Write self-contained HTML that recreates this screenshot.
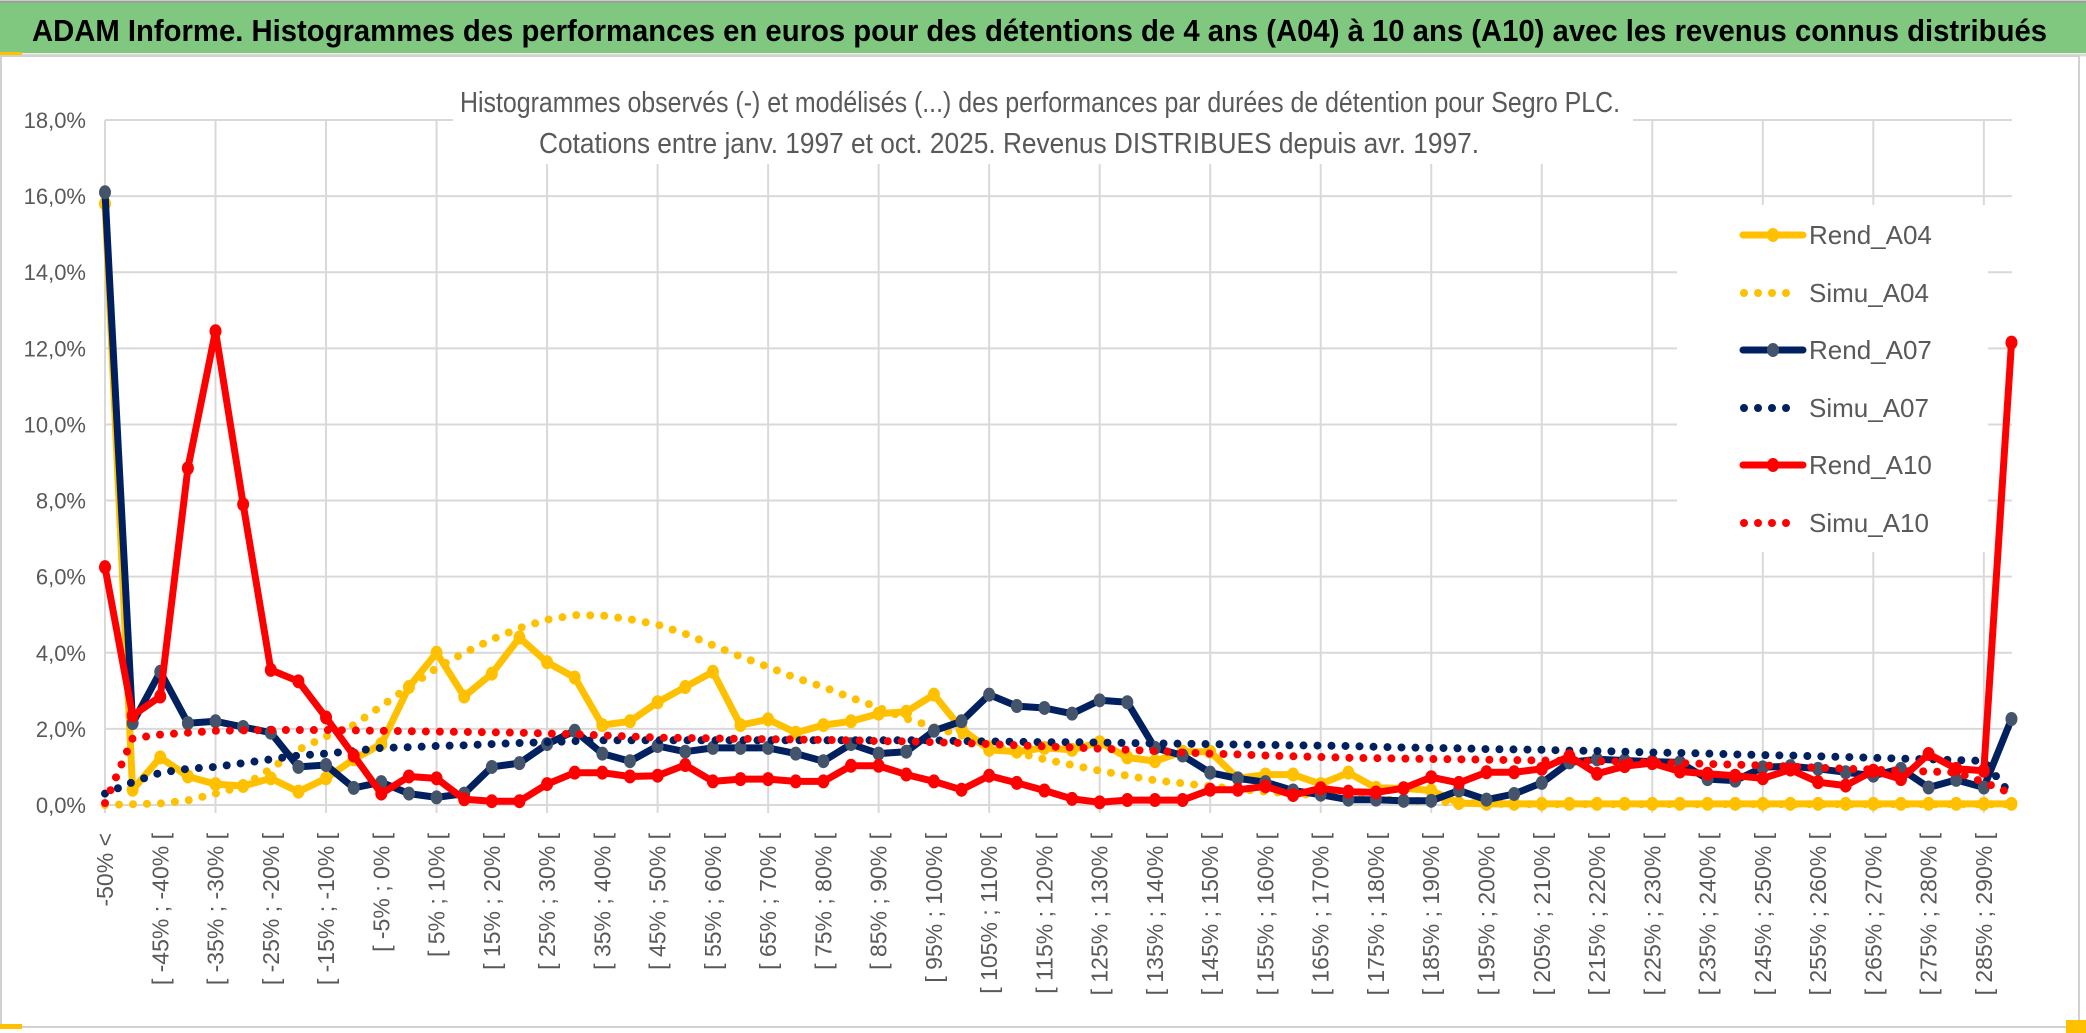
<!DOCTYPE html>
<html><head><meta charset="utf-8"><style>
html,body{margin:0;padding:0;background:#fff;}
svg{display:block;font-family:"Liberation Sans Narrow","Liberation Sans",sans-serif;}
</style></head><body>
<svg id="chart" width="2086" height="1033" viewBox="0 0 2086 1033" xmlns="http://www.w3.org/2000/svg">
<rect x="0" y="0" width="2086" height="1033" fill="#fff"/>
<rect x="0" y="2" width="2086" height="51" fill="#80c880"/>
<line x1="0" y1="1.5" x2="2086" y2="1.5" stroke="#9a9a9a" stroke-width="2"/>
<line x1="0" y1="55" x2="2086" y2="55" stroke="#d9d9d9" stroke-width="3"/>
<rect x="0" y="52" width="22" height="4" fill="#ffc000"/>
<text x="32" y="41" font-size="31" font-weight="bold" fill="#000" textLength="2015" lengthAdjust="spacingAndGlyphs">ADAM Informe. Histogrammes des performances en euros pour des détentions de 4 ans (A04) à 10 ans (A10) avec les revenus connus distribués</text>
<rect x="1" y="56" width="2078" height="971" fill="none" stroke="#d0d0d0" stroke-width="2"/>
<rect x="0" y="1024" width="22" height="5" fill="#ffc000"/>
<rect x="2066" y="1020" width="20" height="13" fill="#ffc000"/>
<g id="grid"></g>
<rect x="453" y="60" width="1180" height="104" fill="#fff"/>
<text x="460" y="112" font-size="29" fill="#595959" textLength="1160" lengthAdjust="spacingAndGlyphs">Histogrammes observés (-) et modélisés (...) des performances par durées de détention pour Segro PLC.</text>
<text x="539" y="153" font-size="29" fill="#595959" textLength="940" lengthAdjust="spacingAndGlyphs">Cotations entre janv. 1997 et oct. 2025. Revenus DISTRIBUES depuis avr. 1997.</text>
<g id="yaxis"></g>
<g id="xaxis"></g>
<rect x="1677" y="205" width="311" height="347" fill="#fff"/>
<g id="series"></g>
<g id="legend"></g>
</svg>
<script>
const yTicks = [0,2,4,6,8,10,12,14,16,18];
const rendA04 = [15.8,0.4,1.25,0.75,0.55,0.5,0.7,0.35,0.7,1.2,1.6,3.1,4.0,2.85,3.45,4.4,3.75,3.35,2.1,2.2,2.7,3.1,3.5,2.1,2.25,1.9,2.1,2.2,2.4,2.45,2.9,2.0,1.45,1.4,1.5,1.45,1.65,1.25,1.15,1.4,1.4,0.7,0.8,0.8,0.55,0.85,0.45,0.44,0.38,0.05,0.03,0.03,0.03,0.03,0.03,0.03,0.03,0.03,0.03,0.03,0.03,0.03,0.03,0.03,0.03,0.03,0.03,0.03,0.03,0.03];
const simuA04 = [0,0.02,0.04,0.12,0.3,0.5,0.95,1.45,1.8,2.1,2.6,3.1,3.6,4.0,4.35,4.65,4.87,4.99,4.98,4.88,4.74,4.5,4.2,3.9,3.63,3.34,3.1,2.82,2.56,2.27,2.05,1.83,1.6,1.38,1.2,1.05,0.9,0.77,0.65,0.57,0.49,0.42,0.35,0.3,0.25,0.2,0.15,0.12,0.09,0.06,0.04,0.02,0.02,0.02,0.02,0.02,0.02,0.02,0.02,0.02,0.02,0.02,0.02,0.02,0.02,0.02,0.02,0.02,0.02,0.02];
const rendA07 = [16.1,2.15,3.5,2.15,2.2,2.05,1.9,1.0,1.05,0.45,0.6,0.3,0.2,0.3,1.0,1.1,1.6,1.95,1.35,1.15,1.55,1.4,1.5,1.5,1.5,1.35,1.15,1.6,1.35,1.4,1.95,2.2,2.9,2.6,2.55,2.4,2.75,2.7,1.5,1.3,0.85,0.7,0.6,0.38,0.27,0.14,0.14,0.11,0.11,0.38,0.14,0.29,0.58,1.12,1.2,1.17,1.14,1.12,0.68,0.64,0.99,1.02,0.95,0.86,0.77,0.95,0.46,0.66,0.46,2.26];
const simuA07 = [0.3,0.6,0.85,0.95,1.0,1.1,1.2,1.3,1.35,1.42,1.5,1.52,1.55,1.57,1.6,1.63,1.65,1.68,1.7,1.7,1.7,1.7,1.7,1.7,1.7,1.7,1.7,1.7,1.7,1.7,1.7,1.68,1.67,1.66,1.65,1.65,1.64,1.63,1.62,1.61,1.6,1.59,1.58,1.57,1.56,1.55,1.53,1.51,1.5,1.49,1.47,1.46,1.45,1.43,1.42,1.4,1.38,1.37,1.35,1.33,1.31,1.3,1.28,1.26,1.24,1.22,1.2,1.18,1.16,0.25];
const rendA10 = [6.25,2.35,2.85,8.85,12.45,7.9,3.55,3.25,2.3,1.3,0.3,0.75,0.7,0.15,0.1,0.1,0.55,0.85,0.85,0.75,0.77,1.05,0.62,0.68,0.68,0.62,0.62,1.03,1.03,0.8,0.62,0.4,0.77,0.58,0.38,0.16,0.07,0.13,0.13,0.13,0.4,0.4,0.49,0.26,0.44,0.35,0.33,0.44,0.73,0.58,0.86,0.86,0.95,1.28,0.82,1.02,1.1,0.88,0.82,0.77,0.7,0.93,0.6,0.51,0.9,0.68,1.34,0.95,0.9,12.15];
const simuA10 = [0.05,1.75,1.85,1.9,1.95,1.96,1.97,1.97,1.97,1.96,1.95,1.94,1.93,1.92,1.91,1.9,1.88,1.86,1.83,1.8,1.77,1.76,1.75,1.74,1.73,1.72,1.71,1.7,1.68,1.67,1.65,1.63,1.6,1.57,1.54,1.51,1.48,1.45,1.42,1.38,1.35,1.33,1.3,1.28,1.26,1.24,1.23,1.22,1.21,1.2,1.19,1.18,1.17,1.16,1.15,1.14,1.12,1.1,1.08,1.06,1.04,1.01,0.98,0.95,0.93,0.9,0.88,0.86,0.6,0.3];
const seriesNames = ["Rend_A04","Simu_A04","Rend_A07","Simu_A07","Rend_A10","Simu_A10"];

const categories = ["-50% <"];
for (let lo = -50; lo < 290; lo += 5) categories.push("[ " + lo + "% ; " + (lo + 5) + "% [");
categories.push("> 290%");

const NS = "http://www.w3.org/2000/svg";
const X0 = 105, STEP = 27.63, Y0 = 805, YTOP = 120, YMAX = 18;
function xPos(i){ return X0 + i * STEP; }
function yPos(v){ return Y0 - (v / YMAX) * (Y0 - YTOP); }
function mk(tag, attrs, parent){ const e = document.createElementNS(NS, tag); for (const k in attrs) e.setAttribute(k, attrs[k]); parent.appendChild(e); return e; }

const grid = document.getElementById("grid");
const xRight = 2012;
yTicks.forEach(t => {
  const l = mk("line", {x1: X0, x2: xRight, y1: yPos(t), y2: yPos(t), stroke: "#d9d9d9", "stroke-width": 2}, grid);
  
  
});
for (let i = 0; i < categories.length; i += 4) {
  const l = mk("line", {x1: xPos(i), x2: xPos(i), y1: YTOP, y2: Y0 + 8, stroke: "#d9d9d9", "stroke-width": 2}, grid);
  
  
}

const yaxis = document.getElementById("yaxis");
yTicks.forEach(t => {
  const tx = mk("text", {x: 86, y: yPos(t) + 8, "text-anchor": "end", "font-size": 22, fill: "#595959"}, yaxis);
  tx.textContent = t.toFixed(1).replace(".", ",") + "%";
  
  
});

const xaxis = document.getElementById("xaxis");
for (let i = 0; i < categories.length; i += 2) {
  const x = xPos(i) + 8;
  const tx = mk("text", {x: x, y: 833, "text-anchor": "end", "font-size": 23, fill: "#595959", transform: "rotate(-90 " + x + " 833)", "font-family": "Liberation Sans, sans-serif"}, xaxis);
  tx.textContent = categories[i];
  
  
}

const sg = document.getElementById("series");
function drawRend(vals, color, mcolor, name){
  const pts = vals.map((v, i) => xPos(i).toFixed(1) + "," + yPos(v).toFixed(1)).join(" ");
  const pl = mk("polyline", {points: pts, fill: "none", stroke: color, "stroke-width": 7, "stroke-linejoin": "round"}, sg);
  
  
  vals.forEach((v, i) => {
    const c = mk("ellipse", {cx: xPos(i), cy: yPos(v), rx: 6, ry: 7, fill: mcolor}, sg);
    
    
  });
}
function drawSimu(vals, color, name){
  const pts = vals.map((v, i) => xPos(i).toFixed(1) + "," + yPos(v).toFixed(1)).join(" ");
  const pl = mk("polyline", {points: pts, fill: "none", stroke: color, "stroke-width": 8, "stroke-linecap": "round", "stroke-dasharray": "0 14"}, sg);
  
  
}
drawRend(rendA04, "#ffc000", "#ffc000", "rend-a04");
drawSimu(simuA04, "#ffc000", "simu-a04");
drawRend(rendA07, "#002060", "#44546a", "rend-a07");
drawSimu(simuA07, "#002060", "simu-a07");
drawRend(rendA10, "#ff0000", "#ff0000", "rend-a10");
drawSimu(simuA10, "#ff0000", "simu-a10");

const lg = document.getElementById("legend");
const legendStyles = [
  {c:"#ffc000", m:"#ffc000", solid:true},
  {c:"#ffc000", solid:false},
  {c:"#002060", m:"#44546a", solid:true},
  {c:"#002060", solid:false},
  {c:"#ff0000", m:"#ff0000", solid:true},
  {c:"#ff0000", solid:false}
];
const legendY = [235, 293, 350, 408, 465, 523];
seriesNames.forEach((n, k) => {
  const g = mk("g", {}, lg);
  
  
  const s = legendStyles[k], y = legendY[k];
  if (s.solid) {
    mk("line", {x1: 1743, x2: 1803, y1: y, y2: y, stroke: s.c, "stroke-width": 7, "stroke-linecap": "round"}, g);
    mk("ellipse", {cx: 1773, cy: y, rx: 6, ry: 7, fill: s.m}, g);
  } else {
    mk("line", {x1: 1744, x2: 1800, y1: y, y2: y, stroke: s.c, "stroke-width": 8, "stroke-linecap": "round", "stroke-dasharray": "0 14"}, g);
  }
  const t = mk("text", {x: 1809, y: y + 9, "font-size": 26, fill: "#595959"}, g);
  t.textContent = n;
});
</script>
</body></html>
